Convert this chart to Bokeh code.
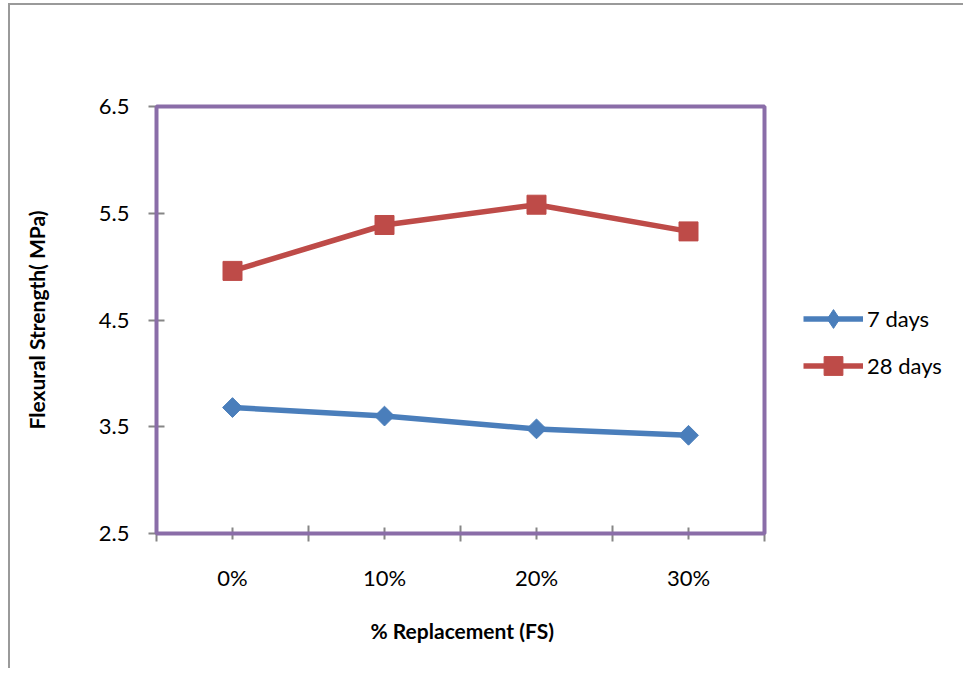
import math
from bokeh.plotting import figure
from bokeh.models import (FixedTicker, Legend, LegendItem, ColumnDataSource, Range1d,
                          BoxAnnotation, Title)
from bokeh.embed import file_html
from bokeh.resources import INLINE

categories = ["0%", "10%", "20%", "30%"]
days7 = [3.68, 3.60, 3.48, 3.42]
days28 = [4.96, 5.39, 5.58, 5.33]
y_ticks = [2.5, 3.5, 4.5, 5.5, 6.5]
x_title = "% Replacement (FS)"
y_title = "Flexural Strength( MPa)"

n = len(categories)
xpos = [i + 0.5 for i in range(n)]
src = ColumnDataSource(dict(x=xpos, d7=days7, d28=days28))

# layout (pixels)
W, H = 955, 665
PAD = 4                               # room so the box outline is not clipped
LEFT, TOP, BOTTOM, RIGHT = 146 - PAD, 101 - PAD, 137 - PAD, 2
box_w, box_h = 608, 427               # drawn plot box size
frame_w = W - LEFT - RIGHT
x_per_px = n / box_w
y_per_px = (y_ticks[-1] - y_ticks[0]) / box_h
x_range = Range1d(-PAD * x_per_px, -PAD * x_per_px + frame_w * x_per_px)
y_range = Range1d(y_ticks[0] - PAD * y_per_px, y_ticks[-1] + PAD * y_per_px)

p = figure(width=W, height=H, output_backend="svg", toolbar_location=None,
           x_range=x_range, y_range=y_range,
           min_border_left=LEFT, min_border_right=RIGHT, min_border_top=TOP,
           min_border_bottom=BOTTOM)
p.styles = {"border-left": "2px solid #9a9a9a", "border-top": "2px solid #9a9a9a",
            "margin-left": "8px", "margin-top": "3px"}

p.grid.visible = False
p.outline_line_color = None
p.background_fill_color = "white"
p.border_fill_color = "white"

PURPLE = "#8A6DA8"
box = BoxAnnotation(left=0, right=n, bottom=y_ticks[0], top=y_ticks[-1],
                    fill_alpha=0, fill_color=None, line_color=PURPLE,
                    line_alpha=1.0, line_width=4)
p.add_layout(box)

FONT = "Lato"
TICK_COLOR = "#868686"

xa = p.xaxis[0]
xa.ticker = FixedTicker(ticks=xpos, minor_ticks=list(range(n + 1)))
xa.major_label_overrides = {v: c for v, c in zip(xpos, categories)}
xa.major_tick_in = 6 + PAD
xa.major_tick_out = 6 - PAD
xa.minor_tick_in = 8 + PAD
xa.minor_tick_out = 8 - PAD
xa.major_tick_line_color = TICK_COLOR
xa.minor_tick_line_color = TICK_COLOR
xa.major_tick_line_width = 2
xa.minor_tick_line_width = 2
xa.axis_line_color = None
xa.major_label_text_font = FONT
xa.major_label_text_font_size = "22px"
xa.major_label_text_color = "black"
xa.major_label_standoff = 22

ya = p.yaxis[0]
ya.ticker = FixedTicker(ticks=y_ticks, minor_ticks=[])
ya.major_label_overrides = {v: f"{v:.1f}" for v in y_ticks}
ya.major_tick_in = 8 + PAD
ya.major_tick_out = 8 - PAD
ya.major_tick_line_color = TICK_COLOR
ya.major_tick_line_width = 2
ya.axis_line_color = None
ya.major_label_text_font = FONT
ya.major_label_text_font_size = "22px"
ya.major_label_text_color = "black"
ya.major_label_standoff = 19
ya.axis_label = y_title
ya.axis_label_text_font = FONT
ya.axis_label_text_font_size = "21px"
ya.axis_label_text_font_style = "bold"
ya.axis_label_text_color = "black"
ya.axis_label_standoff = 47

# x-axis title centred under the plot box (not the wider frame)
xt = Title(text=x_title, align="left", offset=369 - (156 - PAD) + 1, standoff=45,
           text_font=FONT, text_font_size="21px", text_font_style="bold",
           text_color="black")
p.add_layout(xt, "below")

BLUE = "#4A7EBB"
RED = "#BE4B48"

l7 = p.line("x", "d7", source=src, line_color=BLUE, line_width=5.5)
# small diamond (hidden under the rotated square) so the legend shows a diamond
d7 = p.scatter("x", "d7", source=src, marker="diamond", size=11,
               fill_color=BLUE, line_color=BLUE)
m7 = p.scatter("x", "d7", source=src, marker="square", angle=math.pi / 4, size=14,
               fill_color=BLUE, line_color=BLUE)
l28 = p.line("x", "d28", source=src, line_color=RED, line_width=5.5)
m28 = p.scatter("x", "d28", source=src, marker="square", size=19,
                fill_color=RED, line_color=RED)

legend = Legend(items=[LegendItem(label="7 days", renderers=[l7, d7]),
                       LegendItem(label="28 days", renderers=[l28, m28])],
                location=(647 + PAD, 144 + PAD))
legend.border_line_color = None
legend.background_fill_alpha = 0
legend.padding = 0
legend.margin = 0
legend.glyph_width = 60
legend.glyph_height = 47
legend.label_height = 20
legend.label_standoff = 4
legend.spacing = 0
legend.label_text_font = FONT
legend.label_text_font_size = "22px"
legend.label_text_color = "black"
p.add_layout(legend, "center")

open("out.html", "w").write(file_html(p, INLINE))
